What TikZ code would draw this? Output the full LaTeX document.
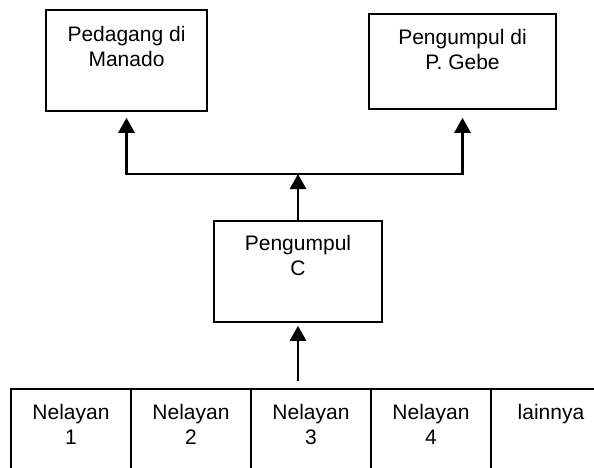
\documentclass[tikz,border=0pt]{standalone}
\usepackage{fontspec}
\setmainfont{Liberation Sans}
\usetikzlibrary{arrows.meta,positioning}

\tikzset{
	box/.style={draw, line width=1.6pt, inner sep=0pt},
	lbl/.style={align=center, inner sep=0pt, font=\fontsize{21}{25}\selectfont},
	arr/.style={line width=2.8pt, -{Triangle[width=16pt,length=15pt]}}
}

\begin{document}
\begin{tikzpicture}[x=1pt,y=1pt]
		% Fix page size
		\useasboundingbox (0,0) rectangle (594,-468);
		
		% Draw top boxes
		\node[box, minimum width=161pt, minimum height=101pt] (manado) at (126.5,-60.5) {};
		\node[lbl, below=17pt of manado.north] (manadotxt) {Pedagang di\\Manado};
		\node[box, minimum width=187pt, minimum height=95pt] (gebe) at (462.5,-61.5) {};
		\node[lbl, below=16pt of gebe.north] (gebetxt) {Pengumpul di\\P. Gebe};
		
		% Draw middle box
		\node[box, minimum width=168pt, minimum height=101pt] (pengc) at (298,-271.5) {};
		\node[lbl, below=15pt of pengc.north] (pengctxt) {Pengumpul\\C};
		
		% Draw bottom row
		\foreach \i/\t in {1/{Nelayan\\1}, 2/{Nelayan\\2}, 3/{Nelayan\\3}, 4/{Nelayan\\4}, 5/{lainnya}} {
			\node[box, minimum width=120pt, minimum height=110pt] (nel\i) at (11+120*\i-60,-444) {};
			\node[lbl, below=16pt of nel\i.north] (nel\i txt) {\t};
		}
		
		% Draw arrows
		\coordinate (split) at (298,-174);
		\draw[arr, shorten <=7pt, shorten >=3pt] (pengc.south |- nel3.north) -- (pengc.south);
		\draw[arr] (pengc.north) -- (split);
		\draw[arr, shorten >=6pt] (split) -| (manado.south);
		\draw[arr, shorten >=8pt] (split) -| (gebe.south);
	\end{tikzpicture}
\end{document}
